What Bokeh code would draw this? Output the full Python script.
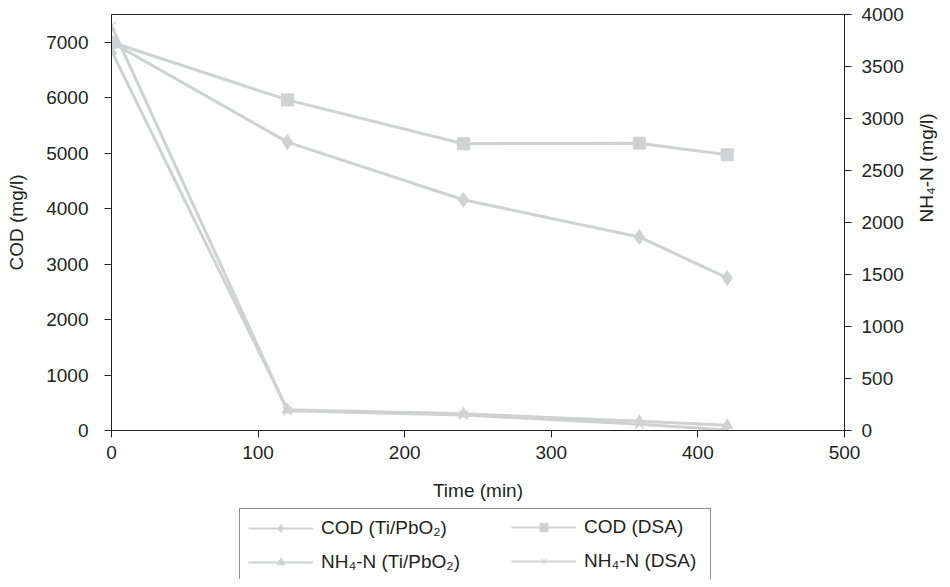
import math
from bokeh.plotting import figure
from bokeh.layouts import column
from bokeh.models import Range1d, LinearAxis, Legend, LegendItem, FixedTicker
from bokeh.embed import file_html
from bokeh.resources import INLINE

time_min = [0, 120, 240, 360, 420]
cod_ti = [7000, 5200, 4160, 3490, 2750]
cod_dsa = [7000, 5960, 5170, 5180, 4970]
nh4_ti = [3650, 200, 160, 90, 50]
nh4_dsa = [3890, 190, 150, 60, 5]

x_ticks = [0, 100, 200, 300, 400, 500]
left_ticks = [0, 1000, 2000, 3000, 4000, 5000, 6000, 7000]
right_ticks = [0, 500, 1000, 1500, 2000, 2500, 3000, 3500, 4000]

labels = ["COD (Ti/PbO\u2082)", "COD (DSA)", "NH\u2084-N (Ti/PbO\u2082)", "NH\u2084-N (DSA)"]

FONT = "Liberation Sans"
TXT = "#231f20"
GRAY = "#cfd1d3"
FS = "19px"

p = figure(width=950, height=508,
           x_range=Range1d(0, 500), y_range=Range1d(0, 7500),
           output_backend="svg", toolbar_location=None,
           min_border_left=111, min_border_right=101,
           min_border_top=14, min_border_bottom=78)
p.extra_y_ranges = {"nh4": Range1d(0, 4000)}

p.grid.visible = False
p.outline_line_color = TXT
p.outline_line_width = 1
p.background_fill_color = "white"
p.border_fill_color = "white"

yr = LinearAxis(y_range_name="nh4", axis_label="NH\u2084-N (mg/l)")
p.add_layout(yr, "right")
try:
    yr.axis_label_orientation = math.pi / 2
except Exception:
    pass

p.xaxis.axis_label = "Time (min)"
p.yaxis[0].axis_label = "COD (mg/l)"

p.xaxis.ticker = FixedTicker(ticks=x_ticks)
p.yaxis[0].ticker = FixedTicker(ticks=left_ticks)
yr.ticker = FixedTicker(ticks=right_ticks)

for ax in [p.xaxis[0], p.yaxis[0], yr]:
    ax.axis_line_color = TXT
    ax.major_tick_line_color = TXT
    ax.major_tick_in = 0
    ax.major_tick_out = 7
    ax.minor_tick_line_color = None
    ax.major_label_text_font = FONT
    ax.major_label_text_font_size = FS
    ax.major_label_text_color = TXT
    ax.axis_label_text_font = FONT
    ax.axis_label_text_font_size = FS
    ax.axis_label_text_font_style = "normal"
    ax.axis_label_text_color = TXT

p.xaxis.major_label_standoff = 8
p.xaxis.axis_label_standoff = 18
p.yaxis[0].major_label_standoff = 16
p.yaxis[0].axis_label_standoff = 16
yr.major_label_standoff = 10
yr.axis_label_standoff = 20

lw = 3
p.line(time_min, cod_ti, line_color=GRAY, line_width=lw)
p.scatter(time_min, cod_ti, marker="diamond", size=15, color=GRAY)
p.line(time_min, cod_dsa, line_color=GRAY, line_width=lw)
p.scatter(time_min, cod_dsa, marker="square", size=12, color=GRAY)
p.line(time_min, nh4_ti, line_color=GRAY, line_width=lw, y_range_name="nh4")
p.scatter(time_min, nh4_ti, marker="triangle", size=11, color=GRAY, y_range_name="nh4")
p.line(time_min, nh4_dsa, line_color=GRAY, line_width=lw, y_range_name="nh4")
p.scatter(time_min, nh4_dsa, marker="x", size=12, line_color=GRAY, line_width=1.5, y_range_name="nh4")

# legend strip below: same series drawn out of view, only their legend glyphs show
q = figure(width=950, height=71, x_range=Range1d(-2, -1), y_range=Range1d(-2, -1),
           output_backend="svg", toolbar_location=None,
           x_axis_location=None, y_axis_location=None, min_border=0)
q.grid.visible = False
q.outline_line_color = None
q.border_fill_color = "white"
q.background_fill_color = "white"

k1 = q.line(time_min, cod_ti, line_color=GRAY, line_width=2)
k1m = q.scatter(time_min, cod_ti, marker="diamond", size=10, color=GRAY)
k2 = q.line(time_min, cod_dsa, line_color=GRAY, line_width=2)
k2m = q.scatter(time_min, cod_dsa, marker="square", size=8, color=GRAY)
k3 = q.line(time_min, nh4_ti, line_color=GRAY, line_width=2)
k3m = q.scatter(time_min, nh4_ti, marker="triangle", size=8, color=GRAY)
k4 = q.line(time_min, nh4_dsa, line_color=GRAY, line_width=2)
k4m = q.scatter(time_min, nh4_dsa, marker="x", size=9, line_color=GRAY, line_width=1)


def style(lg):
    lg.label_text_font = FONT
    lg.label_text_font_size = FS
    lg.label_text_color = TXT
    lg.glyph_width = 65
    lg.glyph_height = 20
    lg.label_standoff = 8
    lg.label_height = 20
    lg.spacing = 12
    lg.padding = 8
    lg.margin = 0


leg_a = Legend(items=[
    LegendItem(label=labels[0], renderers=[k1, k1m]),
    LegendItem(label=labels[2], renderers=[k3, k3m]),
], location=(128, -3), orientation="vertical")
style(leg_a)
leg_a.label_width = 381
leg_a.border_line_color = TXT
leg_a.border_line_width = 1
leg_a.background_fill_color = "white"
leg_a.background_fill_alpha = 1

leg_b = Legend(items=[
    LegendItem(label=labels[1], renderers=[k2, k2m]),
    LegendItem(label=labels[3], renderers=[k4, k4m]),
], location=(400, 7), orientation="vertical")
style(leg_b)
leg_b.border_line_color = None
leg_b.background_fill_alpha = 0

q.add_layout(leg_a, "center")
q.add_layout(leg_b, "center")

open("out.html", "w").write(file_html(column(p, q, spacing=0), INLINE))
